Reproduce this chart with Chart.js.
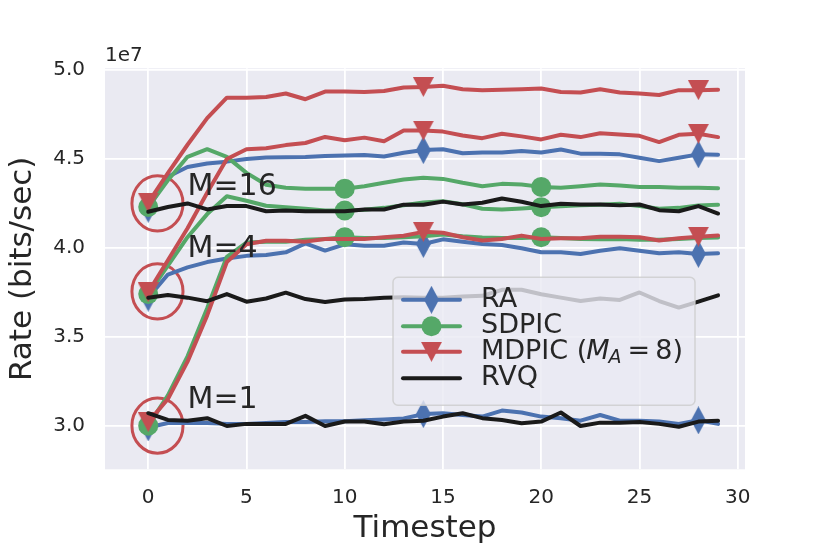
<!DOCTYPE html>
<html>
<head>
<meta charset="utf-8">
<script src="https://cdn.jsdelivr.net/npm/chart.js@4.4.1/dist/chart.umd.min.js"></script>
<style>
  body { margin: 0; background: #fff; }
  #wrap { width: 830px; height: 554px; }
</style>
</head>
<body>
<div id="wrap"><canvas id="chart" width="830" height="554"></canvas></div>
<script>
// timesteps on the x axis
const timesteps = [0, 1, 2, 3, 4, 5, 6, 7, 8, 9, 10, 11, 12, 13, 14, 15, 16, 17, 18, 19, 20, 21, 22, 23, 24, 25, 26, 27, 28, 29];

// rates, in units of 1e7 bits/sec
// M = 16
const ra16 = [4.22, 4.40, 4.455, 4.475, 4.485, 4.50, 4.508, 4.51, 4.511, 4.517, 4.52, 4.522, 4.514, 4.535, 4.55, 4.555, 4.532, 4.536, 4.536, 4.545, 4.536, 4.553, 4.53, 4.53, 4.526, 4.507, 4.488, 4.507, 4.526, 4.524];
const sdpic16 = [4.23, 4.38, 4.512, 4.555, 4.512, 4.422, 4.355, 4.338, 4.332, 4.332, 4.333, 4.347, 4.366, 4.385, 4.394, 4.388, 4.366, 4.347, 4.36, 4.356, 4.343, 4.338, 4.347, 4.356, 4.351, 4.343, 4.343, 4.338, 4.338, 4.336];
const mdpic16 = [4.255, 4.42, 4.58, 4.73, 4.845, 4.845, 4.849, 4.868, 4.836, 4.879, 4.879, 4.877, 4.882, 4.902, 4.905, 4.912, 4.892, 4.887, 4.889, 4.892, 4.896, 4.877, 4.874, 4.892, 4.874, 4.868, 4.86, 4.887, 4.887, 4.889];
const rvq16 = [4.203, 4.23, 4.25, 4.216, 4.235, 4.235, 4.206, 4.21, 4.206, 4.206, 4.206, 4.216, 4.216, 4.243, 4.243, 4.26, 4.244, 4.254, 4.278, 4.259, 4.235, 4.248, 4.244, 4.244, 4.239, 4.244, 4.212, 4.206, 4.235, 4.193];
// M = 4
const ra4 = [3.72, 3.85, 3.89, 3.92, 3.94, 3.955, 3.96, 3.975, 4.025, 3.985, 4.02, 4.012, 4.012, 4.03, 4.022, 4.048, 4.035, 4.022, 4.016, 3.998, 3.975, 3.975, 3.966, 3.984, 3.998, 3.984, 3.97, 3.975, 3.966, 3.97];
const sdpic4 = [3.74, 3.90, 4.06, 4.19, 4.29, 4.265, 4.237, 4.228, 4.22, 4.21, 4.21, 4.215, 4.225, 4.24, 4.255, 4.262, 4.245, 4.22, 4.216, 4.222, 4.229, 4.234, 4.239, 4.243, 4.248, 4.235, 4.22, 4.225, 4.239, 4.242];
const mdpic4 = [3.75, 3.93, 4.11, 4.31, 4.50, 4.555, 4.56, 4.578, 4.59, 4.624, 4.605, 4.62, 4.6, 4.66, 4.66, 4.654, 4.632, 4.617, 4.642, 4.627, 4.61, 4.636, 4.623, 4.645, 4.638, 4.63, 4.595, 4.636, 4.642, 4.623];
const rvq4 = [3.72, 3.735, 3.72, 3.70, 3.74, 3.697, 3.715, 3.748, 3.712, 3.695, 3.71, 3.712, 3.72, 3.722, 3.72, 3.72, 3.726, 3.73, 3.764, 3.764, 3.739, 3.72, 3.701, 3.715, 3.707, 3.749, 3.701, 3.664, 3.698, 3.733];
// M = 1
const ra1 = [2.99, 3.015, 3.015, 3.015, 3.01, 3.01, 3.015, 3.02, 3.02, 3.025, 3.025, 3.03, 3.035, 3.04, 3.065, 3.07, 3.06, 3.051, 3.085, 3.074, 3.051, 3.042, 3.028, 3.06, 3.028, 3.028, 3.023, 3.01, 3.03, 3.01];
const sdpic1 = [3.0, 3.17, 3.39, 3.66, 3.95, 4.03, 4.035, 4.035, 4.045, 4.05, 4.06, 4.055, 4.055, 4.06, 4.065, 4.075, 4.065, 4.058, 4.055, 4.055, 4.06, 4.055, 4.05, 4.048, 4.05, 4.045, 4.045, 4.05, 4.055, 4.058];
const mdpic1 = [3.02, 3.15, 3.36, 3.62, 3.92, 4.02, 4.04, 4.04, 4.035, 4.05, 4.05, 4.05, 4.06, 4.068, 4.09, 4.085, 4.06, 4.041, 4.05, 4.069, 4.05, 4.054, 4.054, 4.063, 4.063, 4.06, 4.041, 4.054, 4.063, 4.069];
const rvq1 = [3.07, 3.032, 3.028, 3.042, 2.998, 3.01, 3.01, 3.01, 3.055, 2.998, 3.023, 3.023, 3.008, 3.023, 3.028, 3.051, 3.07, 3.042, 3.032, 3.014, 3.023, 3.074, 2.998, 3.017, 3.017, 3.02, 3.01, 2.994, 3.023, 3.027];

// tick labels
const xTicks = [0, 5, 10, 15, 20, 25, 30];
const yTicks = [3.0, 3.5, 4.0, 4.5, 5.0];

// legend entries
const legendNames = ["RA", "SDPIC", "MDPIC", "RVQ"];

// annotations: group labels and the circles round the starting points
const groupLabels = ["M=16", "M=4", "M=1"];
const groupLabelX = [2, 2, 2];
const groupLabelY = [4.30, 3.95, 3.10];
const circleX = [0.47, 0.47, 0.47];
const circleY = [4.25, 3.755, 3.0];

// colours (seaborn deep)
const blue = "#4c72b0";
const green = "#55a868";
const red = "#c44e52";
const black = "#1a1a1a";
const textColor = "#262626";
const font = "'DejaVu Sans', sans-serif";

// thin diamond marker
function diamondMarker(color) {
    const c = document.createElement("canvas");
    c.width = 15;
    c.height = 28;
    const g = c.getContext("2d");
    g.fillStyle = color;
    g.beginPath();
    g.moveTo(7.5, 0);
    g.lineTo(15, 14);
    g.lineTo(7.5, 28);
    g.lineTo(0, 14);
    g.closePath();
    g.fill();
    return c;
}

// downward triangle marker
function triangleMarker(color) {
    const c = document.createElement("canvas");
    c.width = 21;
    c.height = 20;
    const g = c.getContext("2d");
    g.fillStyle = color;
    g.beginPath();
    g.moveTo(0, 0);
    g.lineTo(21, 0);
    g.lineTo(10.5, 20);
    g.closePath();
    g.fill();
    return c;
}

const markers = {
    RA: { style: diamondMarker(blue), radius: 10, every: 14, color: blue, order: 4 },
    SDPIC: { style: "circle", radius: 10, every: 10, color: green, order: 3 },
    MDPIC: { style: triangleMarker(red), radius: 10, every: 14, color: red, order: 2 },
    RVQ: { style: "circle", radius: 0, every: 1000, color: black, order: 1 },
};

// one line of the chart
function makeLine(name, values) {
    const m = markers[name];
    return {
        label: name,
        data: values.map((v, i) => ({ x: timesteps[i], y: v })),
        borderColor: m.color,
        backgroundColor: m.color,
        borderWidth: 4,
        borderJoinStyle: "round",
        borderCapStyle: "round",
        tension: 0,
        fill: false,
        order: m.order,
        pointStyle: m.style,
        pointBorderWidth: 0,
        pointRadius: (ctx) => (ctx.dataIndex % m.every === 0 ? m.radius : 0),
        pointHoverRadius: 0,
    };
}

const datasets = [
    makeLine("RA", ra16), makeLine("SDPIC", sdpic16), makeLine("MDPIC", mdpic16), makeLine("RVQ", rvq16),
    makeLine("RA", ra4), makeLine("SDPIC", sdpic4), makeLine("MDPIC", mdpic4), makeLine("RVQ", rvq4),
    makeLine("RA", ra1), makeLine("SDPIC", sdpic1), makeLine("MDPIC", mdpic1), makeLine("RVQ", rvq1),
];

// background, circles, labels and legend
const decorations = {
    id: "decorations",
    beforeDraw(chart) {
        const a = chart.chartArea;
        const ctx = chart.ctx;
        ctx.save();
        ctx.fillStyle = "#eaeaf2";
        ctx.fillRect(a.left, a.top, a.right - a.left, a.bottom - a.top);
        ctx.restore();
    },
    beforeDatasetsDraw(chart) {
        const xs = chart.scales.x;
        const ys = chart.scales.y;
        const ctx = chart.ctx;
        ctx.save();
        ctx.strokeStyle = red;
        ctx.lineWidth = 3;
        for (let i = 0; i < circleX.length; i++) {
            const cx = xs.getPixelForValue(circleX[i]);
            const cy = ys.getPixelForValue(circleY[i]);
            const rx = xs.getPixelForValue(circleX[i] + 1.3) - cx;
            const ry = cy - ys.getPixelForValue(circleY[i] + 0.155);
            ctx.beginPath();
            ctx.ellipse(cx, cy, rx, ry, 0, 0, Math.PI * 2);
            ctx.stroke();
        }
        ctx.restore();
    },
    afterDatasetsDraw(chart) {
        const xs = chart.scales.x;
        const ys = chart.scales.y;
        const a = chart.chartArea;
        const ctx = chart.ctx;
        ctx.save();

        // group labels
        ctx.fillStyle = textColor;
        ctx.font = "30px " + font;
        ctx.textBaseline = "alphabetic";
        ctx.textAlign = "left";
        for (let i = 0; i < groupLabels.length; i++) {
            ctx.fillText(groupLabels[i], xs.getPixelForValue(groupLabelX[i]), ys.getPixelForValue(groupLabelY[i]));
        }

        // offset text of the y axis
        ctx.font = "20px " + font;
        ctx.fillText("1e7", a.left, a.top - 7);

        // legend box
        const lx = a.left + 288;
        const ly = a.top + 209;
        const lw = 302;
        const lh = 128;
        ctx.beginPath();
        ctx.roundRect(lx, ly, lw, lh, 5);
        ctx.fillStyle = "rgba(234, 234, 242, 0.8)";
        ctx.fill();
        ctx.strokeStyle = "rgba(204, 204, 204, 0.8)";
        ctx.lineWidth = 1.5;
        ctx.stroke();

        // legend entries
        const rowY = [22.5, 49, 74.5, 101];
        for (let i = 0; i < legendNames.length; i++) {
            const m = markers[legendNames[i]];
            const y = ly + rowY[i];
            ctx.strokeStyle = m.color;
            ctx.lineWidth = 4;
            ctx.lineCap = "round";
            ctx.beginPath();
            ctx.moveTo(lx + 10, y);
            ctx.lineTo(lx + 67, y);
            ctx.stroke();
            const mx = lx + 38.5;
            if (typeof m.style === "object") {
                ctx.drawImage(m.style, mx - m.style.width / 2, y - m.style.height / 2);
            } else if (m.radius > 0) {
                ctx.fillStyle = m.color;
                ctx.beginPath();
                ctx.arc(mx, y, m.radius, 0, Math.PI * 2);
                ctx.fill();
            }

            ctx.fillStyle = textColor;
            ctx.textBaseline = "middle";
            ctx.font = "27px " + font;
            let tx = lx + 88;
            if (legendNames[i] === "MDPIC") {
                // MDPIC ($M_A = 8$)
                ctx.fillText("MDPIC (", tx, y);
                tx += ctx.measureText("MDPIC (").width - 1;
                ctx.font = "italic 27px " + font;
                ctx.fillText("M", tx, y);
                tx += ctx.measureText("M").width - 1;
                ctx.font = "italic 19px " + font;
                ctx.fillText("A", tx, y + 6);
                tx += ctx.measureText("A").width + 6;
                ctx.font = "27px " + font;
                ctx.fillText("=", tx, y);
                tx += ctx.measureText("=").width + 5;
                ctx.fillText("8)", tx, y);
            } else {
                ctx.fillText(legendNames[i], tx, y);
            }
        }
        ctx.restore();
    },
};

const ctx = document.getElementById("chart").getContext("2d");

new Chart(ctx, {
    type: "line",
    data: { datasets: datasets },
    options: {
        responsive: false,
        animation: false,
        events: [],
        layout: { padding: { top: 68.3, right: 85, left: 0, bottom: 0 } },
        plugins: {
            legend: { display: false },
            tooltip: { enabled: false },
        },
        scales: {
            x: {
                type: "linear",
                min: -2.2,
                max: 30.37,
                afterBuildTicks: (s) => { s.ticks = xTicks.map((v) => ({ value: v })); },
                afterFit: (s) => { s.height = 84.7; },
                border: { display: false },
                grid: { color: "#ffffff", lineWidth: 1.8, drawTicks: false },
                ticks: {
                    color: textColor,
                    font: { family: font, size: 20 },
                    padding: 16.7,
                    maxRotation: 0,
                    callback: (v) => String(v),
                },
                title: {
                    display: true,
                    text: "Timestep",
                    color: textColor,
                    font: { family: font, size: 31 },
                    padding: { top: 6, bottom: 6 },
                },
            },
            y: {
                type: "linear",
                min: 2.7545,
                max: 5.01,
                afterBuildTicks: (s) => { s.ticks = yTicks.map((v) => ({ value: v })); },
                afterFit: (s) => { s.width = 105; },
                border: { display: false },
                grid: { color: "#ffffff", lineWidth: 1.8, drawTicks: false },
                ticks: {
                    color: textColor,
                    font: { family: font, size: 20 },
                    padding: 20,
                    callback: (v) => v.toFixed(1),
                },
                title: {
                    display: true,
                    text: "Rate (bits/sec)",
                    color: textColor,
                    font: { family: font, size: 31 },
                    padding: { top: 4, bottom: 4 },
                },
            },
        },
    },
    plugins: [decorations],
});
</script>
</body>
</html>
